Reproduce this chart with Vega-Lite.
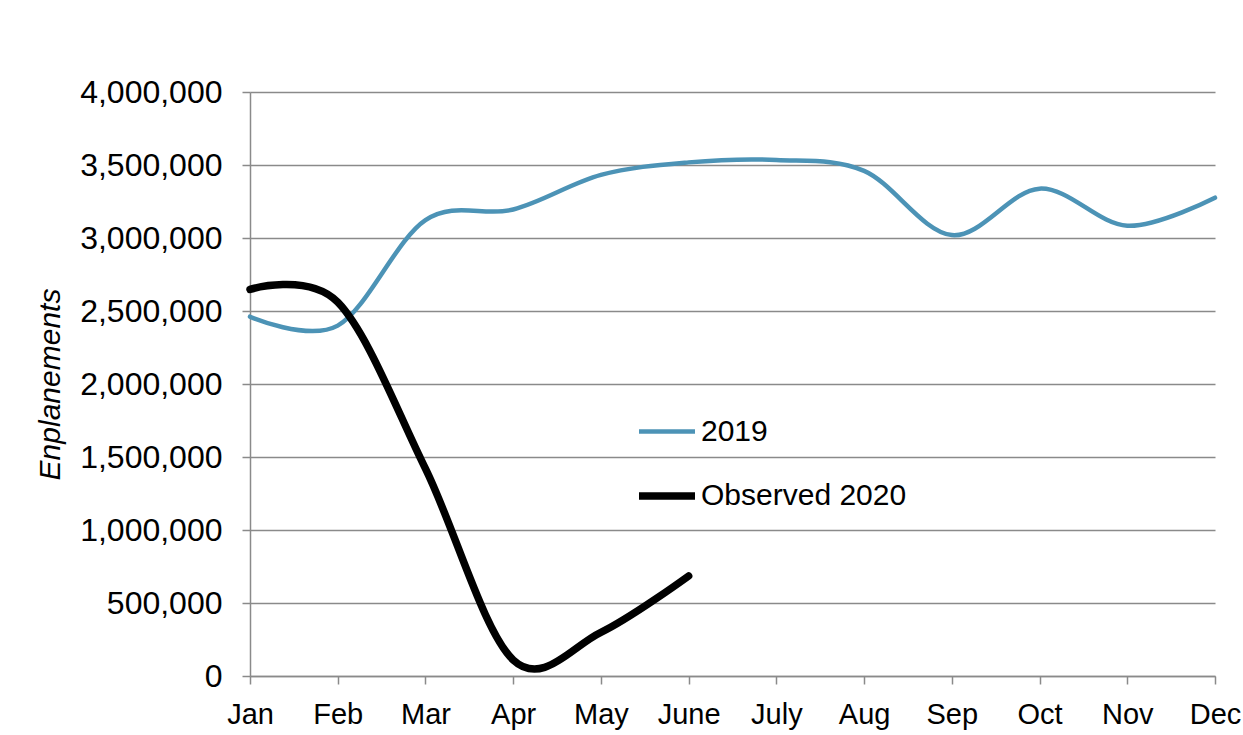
{
  "$schema": "https://vega.github.io/schema/vega-lite/v6.json",
  "width": 965,
  "height": 584,
  "autosize": {"type": "none"},
  "padding": {"left": 250, "top": 92, "right": 28, "bottom": 59},
  "background": "white",
  "config": {
    "font": "Liberation Sans",
    "view": {"stroke": null},
    "axis": {
      "labelFont": "Liberation Sans",
      "labelFontSize": 30,
      "labelColor": "#000000",
      "domainColor": "#8a8a8a",
      "domainWidth": 1.5,
      "tickColor": "#8a8a8a",
      "tickWidth": 1.5,
      "tickSize": 8,
      "gridColor": "#8a8a8a",
      "gridWidth": 1.5
    }
  },
  "data": {
    "values": [
      {"month": "Jan", "series": "2019", "value": 2461000},
      {"month": "Feb", "series": "2019", "value": 2400000},
      {"month": "Mar", "series": "2019", "value": 3123000},
      {"month": "Apr", "series": "2019", "value": 3195000},
      {"month": "May", "series": "2019", "value": 3432000},
      {"month": "June", "series": "2019", "value": 3518000},
      {"month": "July", "series": "2019", "value": 3534000},
      {"month": "Aug", "series": "2019", "value": 3460000},
      {"month": "Sep", "series": "2019", "value": 3020000},
      {"month": "Oct", "series": "2019", "value": 3338000},
      {"month": "Nov", "series": "2019", "value": 3084000},
      {"month": "Dec", "series": "2019", "value": 3276000},
      {"month": "Jan", "series": "Observed 2020", "value": 2648000},
      {"month": "Feb", "series": "Observed 2020", "value": 2560000},
      {"month": "Mar", "series": "Observed 2020", "value": 1420000},
      {"month": "Apr", "series": "Observed 2020", "value": 110000},
      {"month": "May", "series": "Observed 2020", "value": 299000},
      {"month": "June", "series": "Observed 2020", "value": 685000}
    ]
  },
  "mark": {"type": "line", "interpolate": "cardinal", "strokeCap": "round"},
  "encoding": {
    "x": {
      "field": "month",
      "type": "ordinal",
      "sort": ["Jan", "Feb", "Mar", "Apr", "May", "June", "July", "Aug", "Sep", "Oct", "Nov", "Dec"],
      "scale": {"type": "point", "padding": 0},
      "axis": {"title": null, "labelAngle": 0, "labelPadding": 16, "grid": false, "labelBaseline": "top", "labelFontSize": 29}
    },
    "y": {
      "field": "value",
      "type": "quantitative",
      "scale": {"domain": [0, 4000000], "nice": false},
      "axis": {
        "title": "Enplanements",
        "titleFont": "Liberation Sans",
        "titleFontStyle": "italic",
        "titleFontWeight": "normal",
        "titleFontSize": 30,
        "titleColor": "#000000",
        "titlePadding": 14,
        "values": [0, 500000, 1000000, 1500000, 2000000, 2500000, 3000000, 3500000, 4000000],
        "format": ",d",
        "labelPadding": 20,
        "labelFontSize": 32,
        "grid": true
      }
    },
    "color": {
      "field": "series",
      "type": "nominal",
      "scale": {"domain": ["2019", "Observed 2020"], "range": ["#4C93B6", "#000000"]},
      "legend": {
        "title": null,
        "orient": "none",
        "legendX": 385,
        "legendY": 309,
        "padding": 0,
        "symbolType": "stroke",
        "symbolSize": 3136,
        "labelFontSize": 30,
        "labelFont": "Liberation Sans",
        "labelColor": "#000000",
        "labelOffset": 2,
        "labelLimit": 400,
        "rowPadding": 17
      }
    },
    "strokeWidth": {
      "field": "series",
      "type": "nominal",
      "scale": {"domain": ["2019", "Observed 2020"], "range": [4.5, 7.5]},
      "legend": null
    }
  }
}
